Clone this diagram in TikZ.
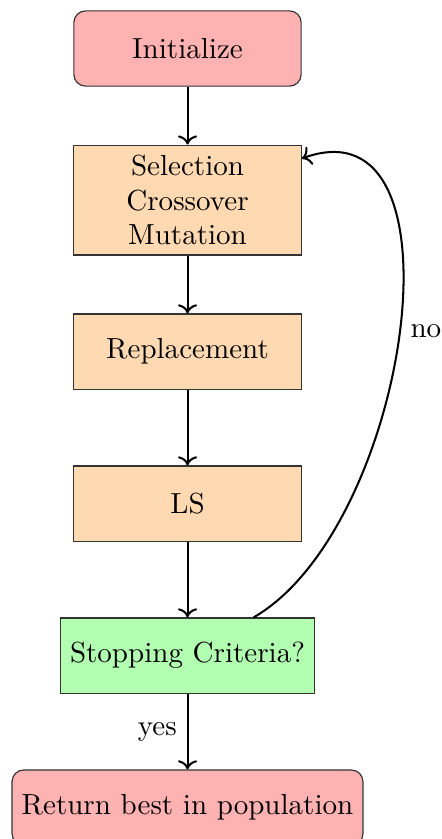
\documentclass[tikz,border=0pt]{standalone}
\usepackage{tikz}
\usetikzlibrary{arrows.meta,positioning,calc}

\begin{document}
\begin{tikzpicture}[
    node distance=0.7cm,
    startstop/.style={rectangle, rounded corners, draw=black!80, fill=red!30, minimum width=2.75cm, minimum height=0.91cm, align=center},
    process/.style={rectangle, draw=black!80, fill=orange!30, minimum width=2.75cm, minimum height=0.91cm, align=center},
    decision/.style={rectangle, draw=black!80, fill=green!30, minimum width=2.75cm, minimum height=0.91cm, align=center},
    flow/.style={->, line width=0.7pt},
]
    \useasboundingbox (-2.269,0.587) rectangle (3.067,-9.565);

    \node[startstop] (init) {Initialize};
    \node[process, below=of init] (gen) {Selection\\Crossover\\Mutation};
    \node[process, below=of gen] (repl) {Replacement};
    \node[process, below=0.915cm of repl] (ls) {LS};
    \node[decision, below=0.915cm of ls] (stop) {Stopping Criteria?};
    \node[startstop, below=0.915cm of stop] (ret) {Return best in population};

    \draw[flow] (init) -- (gen);
    \draw[flow] (gen) -- (repl);
    \draw[flow] (repl) -- (ls);
    \draw[flow] (ls) -- (stop);
    \draw[flow] (stop) -- node[left] {yes} (ret);
    \draw[flow] (stop) to[out=30, in=20] node[right] {no} (gen);
\end{tikzpicture}
\end{document}
